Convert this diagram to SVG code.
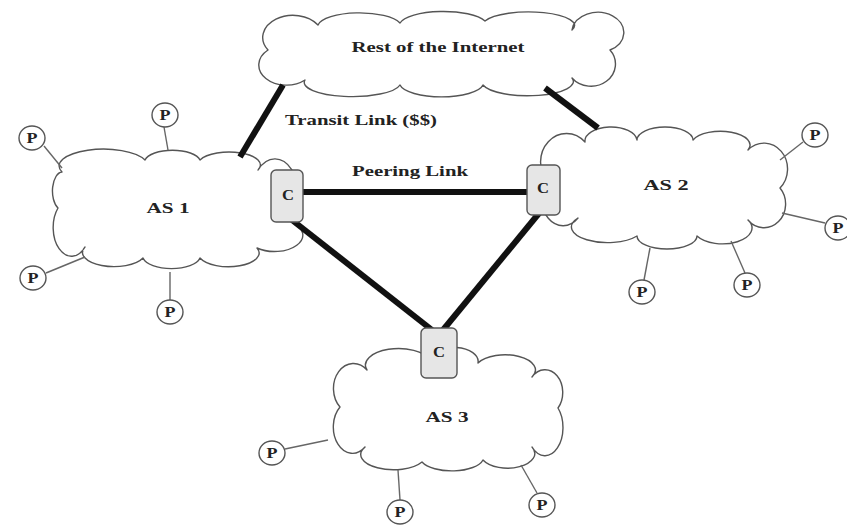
<svg xmlns="http://www.w3.org/2000/svg" width="847" height="529" viewBox="0 0 847 529">
<style>
.cloud{fill:#fff;stroke:#555;stroke-width:1.4;stroke-linejoin:round}
.lbl{font-family:"Liberation Serif","Times New Roman",serif;font-weight:bold;fill:#222;text-anchor:middle}
.big{font-size:15px}
.sm{font-size:14px}
.thick{stroke:#111;stroke-width:6;fill:none}
.spoke{stroke:#666;stroke-width:1.4;fill:none}
.pc{fill:#fff;stroke:#555;stroke-width:1.4}
.cb{fill:#e6e6e6;stroke:#555;stroke-width:1.4}
</style>
<rect width="847" height="529" fill="#fff"/>
<g id="internet">
<path class="cloud" d="M318 25 A42 14 0 0 1 400 23 A44 14 0 0 1 485 21 A44 13 0 0 1 572 30 A26 20 0 1 1 610 50 A22 20 0 1 1 572 78 A45 14 0 0 1 483 85 A42 14 0 0 1 400 85 A48 14 0 0 1 305 80 A22 16 0 0 1 268 50 A30 22 0 1 1 318 25 Z"/>
<text class="lbl big" x="438" y="52" textLength="173" lengthAdjust="spacingAndGlyphs">Rest of the Internet</text>
</g>
<g id="as1">
<path class="cloud" d="M62 172 A42 16 0 0 1 145 160 A28 12 0 0 1 200 160 A29 12 0 0 1 258 170 A18 28 0 0 1 292 222 A24 14 0 0 1 257 248 A29 13 0 0 1 200 258 A29 13 0 0 1 143 258 A29 13 0 0 1 85 247 A14 22 0 0 1 58 208 A10 19 0 0 1 62 172 Z"/>
<text class="lbl big" x="168" y="213" textLength="43" lengthAdjust="spacingAndGlyphs">AS 1</text>
</g>
<g id="as2">
<path class="cloud" d="M585 142 A26 14 0 0 1 637 140 A28 13 0 0 1 693 140 A28 13 0 0 1 748 150 A20 22 0 0 1 780 188 A20 22 0 0 1 748 220 A26 14 0 0 1 697 236 A30 13 0 0 1 637 236 A30 13 0 0 1 578 218 A18 22 0 0 1 548 182 A20 22 0 0 1 585 142 Z"/>
<text class="lbl big" x="666" y="190" textLength="45" lengthAdjust="spacingAndGlyphs">AS 2</text>
</g>
<g id="as3">
<path class="cloud" d="M367 370 A32 16 0 0 1 430 360 A24 14 0 0 1 478 363 A28 14 0 0 1 532 377 A14 18 0 0 1 558 408 A14 22 0 0 1 532 447 A26 14 0 0 1 483 460 A32 14 0 0 1 422 462 A30 14 0 0 1 365 447 A16 22 0 0 1 340 407 A16 20 0 0 1 367 370 Z"/>
<text class="lbl big" x="447" y="422" textLength="43" lengthAdjust="spacingAndGlyphs">AS 3</text>
</g>
<g id="connectors">
<line class="thick" x1="283" y1="85" x2="240" y2="157"/>
<line class="thick" x1="545" y1="88" x2="598" y2="128"/>
<line class="thick" x1="300" y1="192" x2="530" y2="192"/>
<line class="thick" x1="292" y1="220" x2="432" y2="330"/>
<line class="thick" x1="540" y1="212" x2="443" y2="330"/>
<line class="spoke" x1="44" y1="146" x2="62" y2="168"/>
<line class="spoke" x1="164" y1="127" x2="168" y2="150"/>
<line class="spoke" x1="46" y1="273" x2="85" y2="257"/>
<line class="spoke" x1="170" y1="300" x2="170" y2="272"/>
<line class="spoke" x1="803" y1="142" x2="780" y2="160"/>
<line class="spoke" x1="825" y1="223" x2="782" y2="213"/>
<line class="spoke" x1="644" y1="280" x2="650" y2="248"/>
<line class="spoke" x1="745" y1="273" x2="731" y2="241"/>
<line class="spoke" x1="285" y1="449" x2="328" y2="440"/>
<line class="spoke" x1="400" y1="500" x2="398" y2="470"/>
<line class="spoke" x1="537" y1="493" x2="521" y2="465"/>
<text class="lbl big" x="361" y="125" textLength="152" lengthAdjust="spacingAndGlyphs">Transit Link ($$)</text>
<text class="lbl big" x="410" y="176" textLength="116" lengthAdjust="spacingAndGlyphs">Peering Link</text>
</g>
<g id="c1"><rect class="cb" x="271" y="170" width="32" height="52" rx="5"/><text class="lbl sm" x="288" y="200" textLength="12" lengthAdjust="spacingAndGlyphs">C</text></g>
<g id="c2"><rect class="cb" x="527" y="165" width="33" height="50" rx="5"/><text class="lbl sm" x="543" y="193" textLength="12" lengthAdjust="spacingAndGlyphs">C</text></g>
<g id="c3"><rect class="cb" x="421" y="328" width="36" height="50" rx="5"/><text class="lbl sm" x="439" y="357" textLength="12" lengthAdjust="spacingAndGlyphs">C</text></g>
<g id="p1"><ellipse class="pc" cx="32" cy="138" rx="13" ry="12"/><text class="lbl sm" x="32" y="143" textLength="11" lengthAdjust="spacingAndGlyphs">P</text></g>
<g id="p2"><ellipse class="pc" cx="165" cy="115" rx="13" ry="12"/><text class="lbl sm" x="165" y="120" textLength="11" lengthAdjust="spacingAndGlyphs">P</text></g>
<g id="p3"><ellipse class="pc" cx="33" cy="278" rx="13" ry="12"/><text class="lbl sm" x="33" y="283" textLength="11" lengthAdjust="spacingAndGlyphs">P</text></g>
<g id="p4"><ellipse class="pc" cx="170" cy="312" rx="13" ry="12"/><text class="lbl sm" x="170" y="317" textLength="11" lengthAdjust="spacingAndGlyphs">P</text></g>
<g id="p5"><ellipse class="pc" cx="815" cy="135" rx="13" ry="12"/><text class="lbl sm" x="815" y="140" textLength="11" lengthAdjust="spacingAndGlyphs">P</text></g>
<g id="p6"><ellipse class="pc" cx="838" cy="228" rx="13" ry="12"/><text class="lbl sm" x="838" y="233" textLength="11" lengthAdjust="spacingAndGlyphs">P</text></g>
<g id="p7"><ellipse class="pc" cx="642" cy="292" rx="13" ry="12"/><text class="lbl sm" x="642" y="297" textLength="11" lengthAdjust="spacingAndGlyphs">P</text></g>
<g id="p8"><ellipse class="pc" cx="747" cy="285" rx="13" ry="12"/><text class="lbl sm" x="747" y="290" textLength="11" lengthAdjust="spacingAndGlyphs">P</text></g>
<g id="p9"><ellipse class="pc" cx="272" cy="453" rx="13" ry="12"/><text class="lbl sm" x="272" y="458" textLength="11" lengthAdjust="spacingAndGlyphs">P</text></g>
<g id="p10"><ellipse class="pc" cx="400" cy="512" rx="13" ry="12"/><text class="lbl sm" x="400" y="517" textLength="11" lengthAdjust="spacingAndGlyphs">P</text></g>
<g id="p11"><ellipse class="pc" cx="542" cy="505" rx="13" ry="12"/><text class="lbl sm" x="542" y="510" textLength="11" lengthAdjust="spacingAndGlyphs">P</text></g>
</svg>
